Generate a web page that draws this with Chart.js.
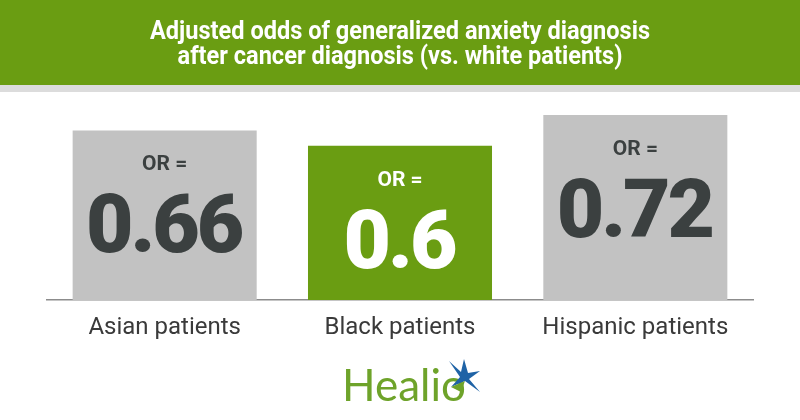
<!DOCTYPE html>
<html>
<head>
<meta charset="utf-8">
<script src="https://cdn.jsdelivr.net/npm/chart.js@4.4.1/dist/chart.umd.min.js"></script>
<style>
  html, body { margin: 0; padding: 0; background: #fff; }
  #wrap { width: 800px; height: 420px; position: relative; }
</style>
</head>
<body>
<div id="wrap"><canvas id="orChart" width="800" height="420"></canvas></div>
<script>
// Chart data
const categories = ['Asian patients', 'Black patients', 'Hispanic patients'];
const oddsRatios = [0.66, 0.6, 0.72];
const valueLabels = ['0.66', '0.6', '0.72'];
const titleLines = ['Adjusted odds of generalized anxiety diagnosis', 'after cancer diagnosis (vs. white patients)'];

const GREEN = '#6a9d12';
const GRAY = '#c2c2c2';
const DARK = '#3b4040';

// header band + title, squeezed to look condensed
const headerPlugin = {
    id: 'header',
    beforeDraw(chart) {
        const ctx = chart.ctx;
        ctx.save();
        ctx.fillStyle = GREEN;
        ctx.fillRect(0, 0, 800, 85);
        ctx.fillStyle = '#dcdcdc';
        ctx.fillRect(0, 85, 800, 7);
        ctx.fillStyle = '#ffffff';
        ctx.font = 'bold 25px Roboto';
        ctx.textAlign = 'center';
        ctx.textBaseline = 'alphabetic';
        const w = ctx.measureText(titleLines[0]).width;
        const sx = 500 / w;
        ctx.translate(400, 0);
        ctx.scale(sx, 1);
        ctx.fillText(titleLines[0], 0, 39);
        ctx.fillText(titleLines[1], 0, 64);
        ctx.restore();
    }
};

// "OR =" and big value inside each bar, logo at the bottom
const labelPlugin = {
    id: 'barLabels',
    afterDatasetsDraw(chart) {
        const ctx = chart.ctx;
        const meta = chart.getDatasetMeta(0);
        ctx.save();
        ctx.textAlign = 'center';
        ctx.textBaseline = 'alphabetic';
        meta.data.forEach((bar, i) => {
            ctx.fillStyle = i === 1 ? '#ffffff' : DARK;
            ctx.font = 'bold 21px Roboto';
            ctx.letterSpacing = '0px';
            ctx.fillText('OR =', bar.x, bar.y + 40);
            ctx.font = '900 82px Roboto';
            ctx.letterSpacing = '-3px';
            ctx.fillText(valueLabels[i], bar.x - 1, bar.y + 122);
        });
        ctx.letterSpacing = '0px';

        // Healio logo
        ctx.fillStyle = '#6ea32a';
        ctx.font = '44px Lato';
        ctx.textAlign = 'left';
        ctx.fillText('Healio', 342, 401);
        // star
        ctx.fillStyle = '#1f63a6';
        const cx = 464, cy = 376;
        const pts = [[-15, -15], [-3, -4], [0, -17], [4, -3], [16, -5], [5, 3], [16, 16], [1, 5], [-13, 11], [-4, 1]];
        ctx.beginPath();
        pts.forEach((p, k) => k ? ctx.lineTo(cx + p[0], cy + p[1]) : ctx.moveTo(cx + p[0], cy + p[1]));
        ctx.closePath();
        ctx.fill();
        ctx.fillStyle = '#6ea32a';
        ctx.beginPath();
        ctx.moveTo(cx - 13, cy + 11);
        ctx.lineTo(cx + 1, cy + 5);
        ctx.lineTo(cx - 3, cy + 16);
        ctx.closePath();
        ctx.fill();
        ctx.restore();
    }
};

new Chart(document.getElementById('orChart').getContext('2d'), {
    type: 'bar',
    data: {
        labels: categories,
        datasets: [{
            data: oddsRatios,
            backgroundColor: oddsRatios.map((v, i) => i === 1 ? GREEN : GRAY),
            borderWidth: 0,
            categoryPercentage: 1,
            barPercentage: 0.782
        }]
    },
    options: {
        responsive: false,
        animation: false,
        layout: { padding: { top: 43, left: 47, right: 47, bottom: 0 } },
        plugins: {
            legend: { display: false },
            tooltip: { enabled: false },
            title: { display: false }
        },
        scales: {
            y: {
                display: false,
                min: 0,
                max: 1.0
            },
            x: {
                grid: { display: false, drawTicks: false },
                border: { display: true, color: '#8c8c8c', width: 1.5 },
                ticks: {
                    color: '#3a3a3a',
                    font: { family: 'Roboto', size: 24 },
                    padding: 14
                },
                afterFit(scale) { scale.height = 120; }
            }
        }
    },
    plugins: [headerPlugin, labelPlugin]
});
</script>
</body>
</html>
